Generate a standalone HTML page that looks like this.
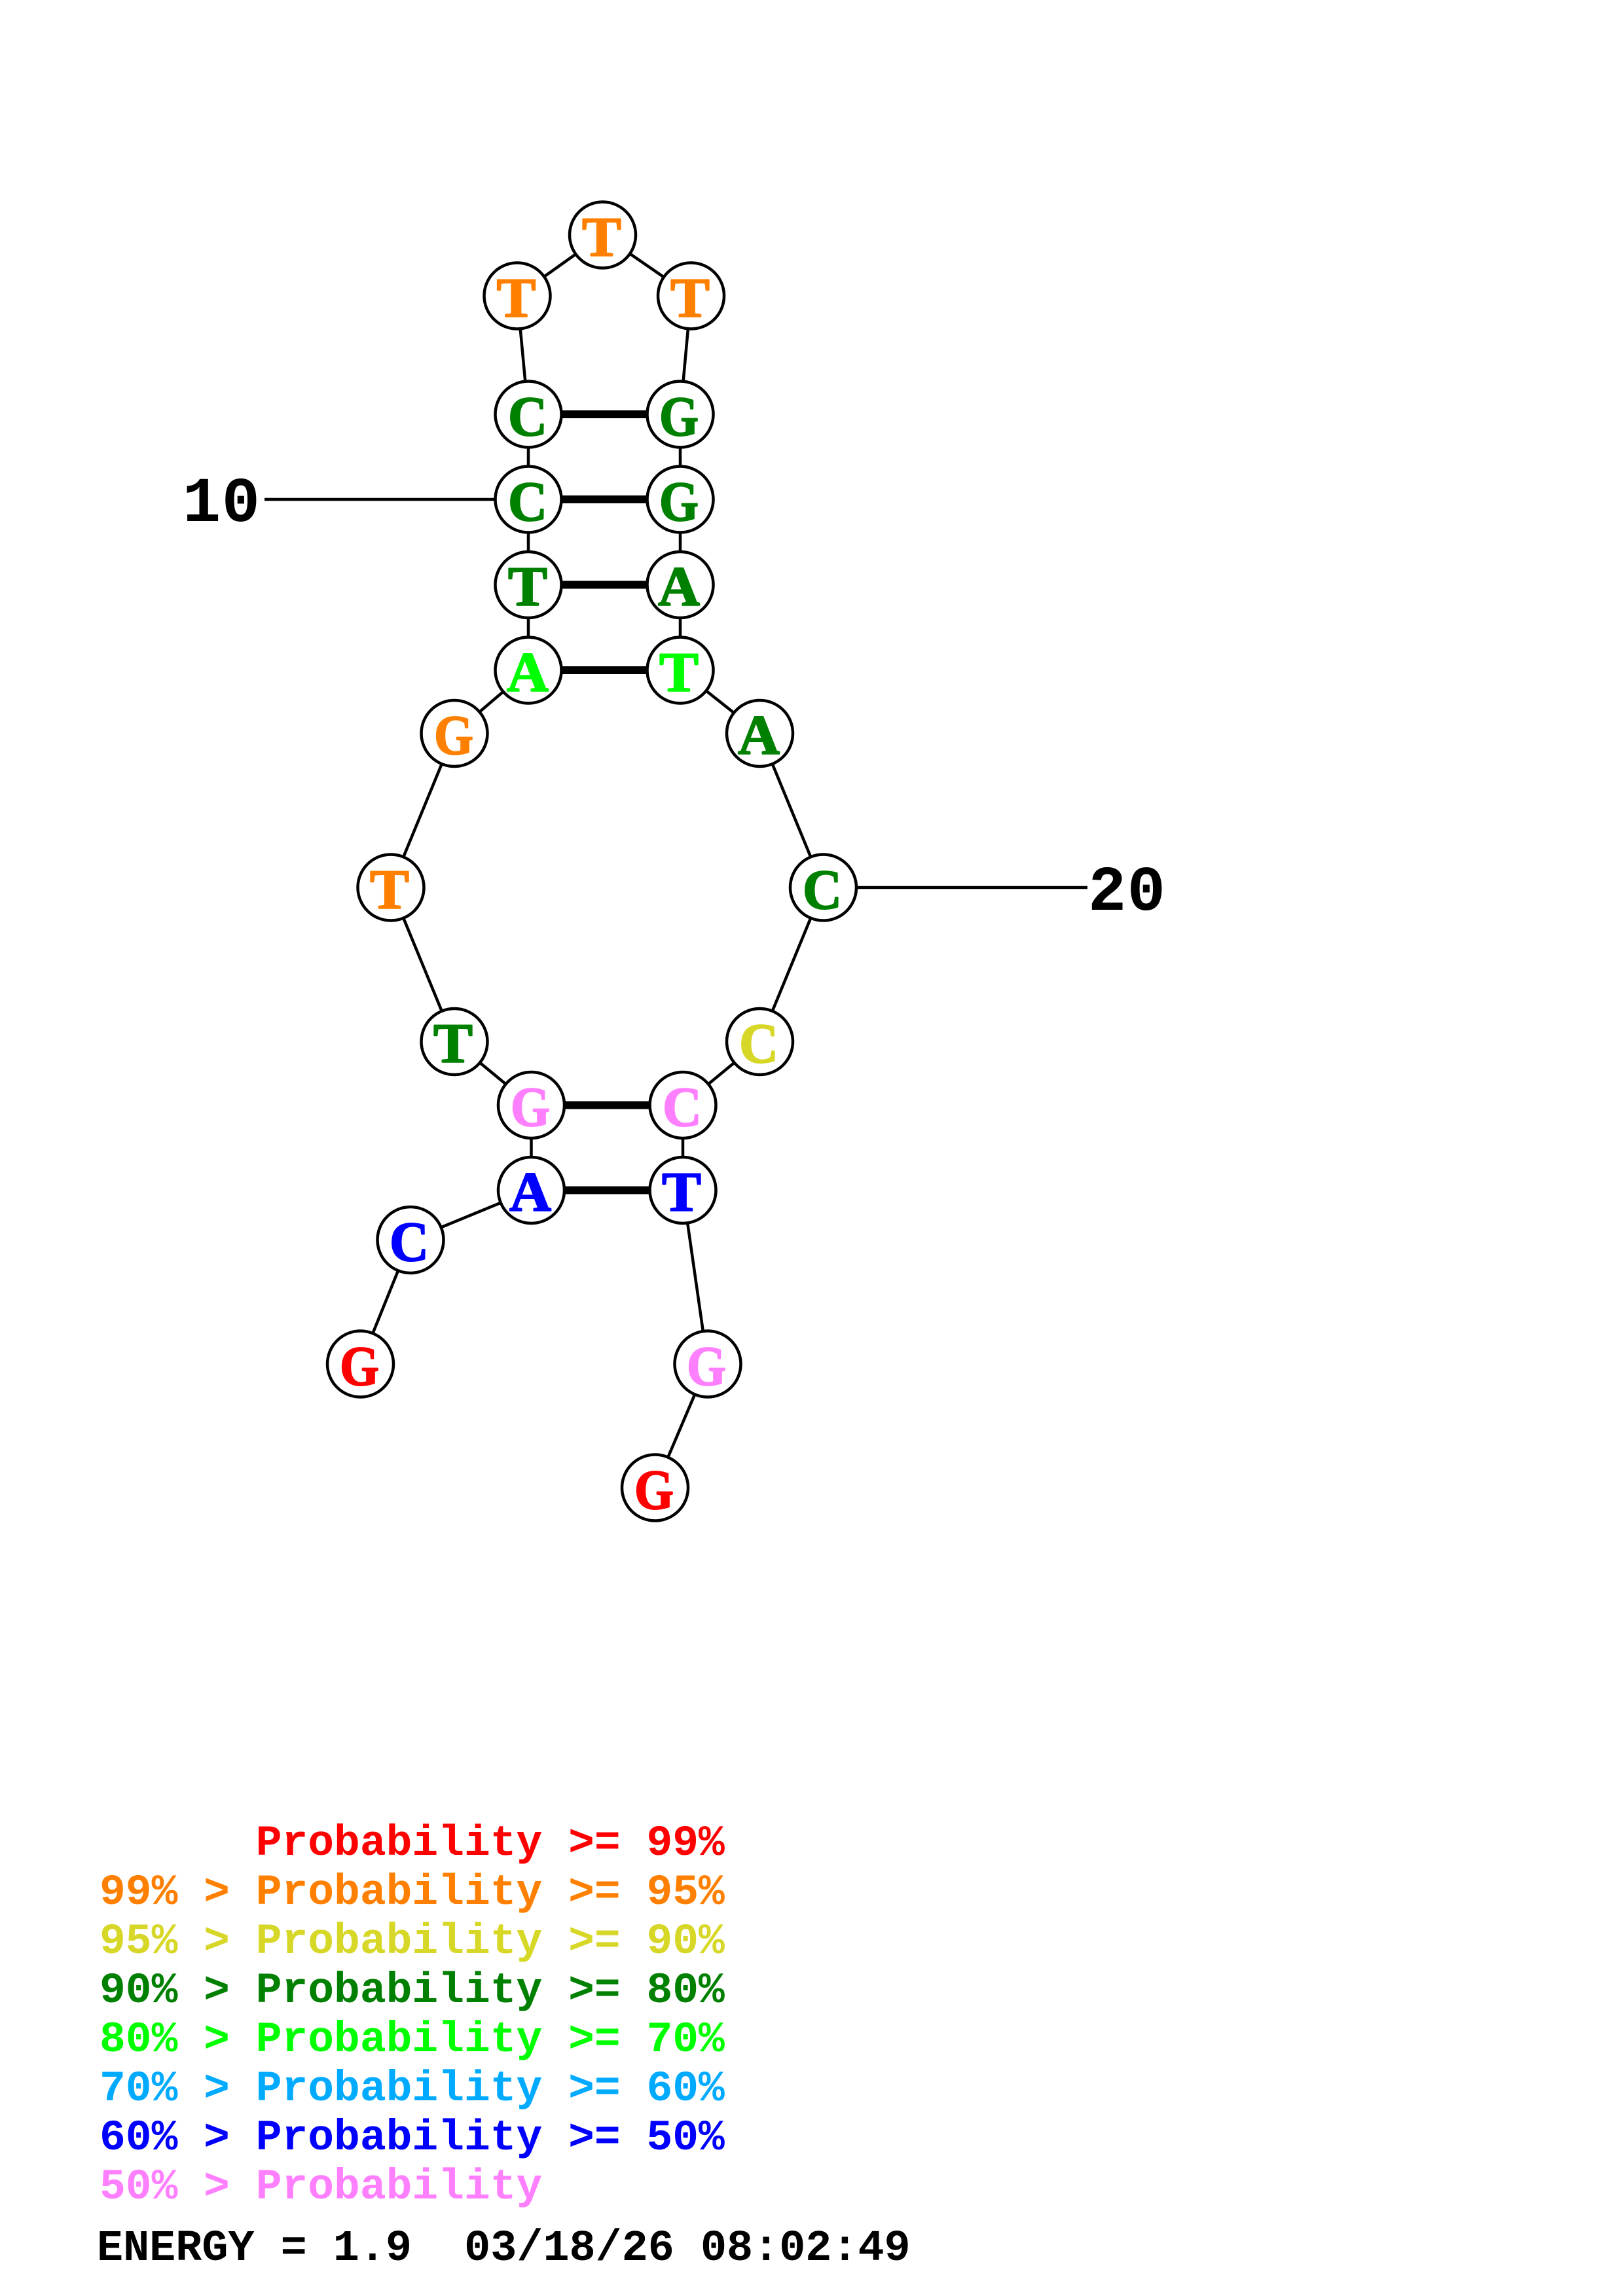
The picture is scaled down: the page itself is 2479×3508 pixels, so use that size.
<!DOCTYPE html>
<html><head><meta charset="utf-8"><style>
html,body{margin:0;padding:0;background:#fff}
svg{display:block}
text{white-space:pre}
.l{font-family:"Liberation Mono",monospace;font-weight:bold;font-size:66.3px}
.e{font-family:"Liberation Mono",monospace;font-weight:bold;font-size:66.8px}
.n{font-family:"Liberation Mono",monospace;font-weight:bold;font-size:97px;fill:#000}
.b{font-family:"Liberation Serif",serif;font-weight:bold;font-size:86px;text-anchor:middle;stroke-width:2;stroke-linejoin:round}
.bb{stroke:#000;stroke-width:4.5;fill:none}
.p{stroke:#000;stroke-width:12}
circle{fill:#fff;stroke:#000;stroke-width:4.5}
</style></head><body>
<svg xmlns="http://www.w3.org/2000/svg" width="2479" height="3508" viewBox="0 0 2479 3508">
<rect width="2479" height="3508" fill="#fff"/>
<polyline class="bb" points="550.5,2084 627,1894.5 811.5,1818.5 811.5,1688.5 694,1591.5 597,1356 694,1120.5 807,1024 807,893.5 807,763 807,633 790,452 920.5,359 1055.5,452 1039,633 1039,763 1039,893.5 1039,1024 1160.5,1120.5 1257.5,1356 1160.5,1591.5 1043,1688.5 1043,1818.5 1081,2084 1000.5,2273"/>
<line class="bb" x1="404" y1="763" x2="807" y2="763"/>
<line class="bb" x1="1257.5" y1="1356" x2="1661" y2="1356"/>
<line class="p" x1="807" y1="633" x2="1039" y2="633"/>
<line class="p" x1="807" y1="763" x2="1039" y2="763"/>
<line class="p" x1="807" y1="893.5" x2="1039" y2="893.5"/>
<line class="p" x1="807" y1="1024" x2="1039" y2="1024"/>
<line class="p" x1="811.5" y1="1688.5" x2="1043" y2="1688.5"/>
<line class="p" x1="811.5" y1="1818.5" x2="1043" y2="1818.5"/>

<circle cx="920.5" cy="359" r="50.5"/><text class="b" x="919" y="391" fill="#ff8000" stroke="#ff8000" textLength="60" lengthAdjust="spacingAndGlyphs">T</text>
<circle cx="790" cy="452" r="50.5"/><text class="b" x="788.5" y="484" fill="#ff8000" stroke="#ff8000" textLength="60" lengthAdjust="spacingAndGlyphs">T</text>
<circle cx="1055.5" cy="452" r="50.5"/><text class="b" x="1054" y="484" fill="#ff8000" stroke="#ff8000" textLength="60" lengthAdjust="spacingAndGlyphs">T</text>
<circle cx="807" cy="633" r="50.5"/><text class="b" x="806" y="665" fill="#008000" stroke="#008000" textLength="60" lengthAdjust="spacingAndGlyphs">C</text>
<circle cx="1039" cy="633" r="50.5"/><text class="b" x="1037" y="665" fill="#008000" stroke="#008000" textLength="60" lengthAdjust="spacingAndGlyphs">G</text>
<circle cx="807" cy="763" r="50.5"/><text class="b" x="806" y="795" fill="#008000" stroke="#008000" textLength="60" lengthAdjust="spacingAndGlyphs">C</text>
<circle cx="1039" cy="763" r="50.5"/><text class="b" x="1037" y="795" fill="#008000" stroke="#008000" textLength="60" lengthAdjust="spacingAndGlyphs">G</text>
<circle cx="807" cy="893.5" r="50.5"/><text class="b" x="806" y="925" fill="#008000" stroke="#008000" textLength="60" lengthAdjust="spacingAndGlyphs">T</text>
<circle cx="1039" cy="893.5" r="50.5"/><text class="b" x="1037" y="925" fill="#008000" stroke="#008000" textLength="64" lengthAdjust="spacingAndGlyphs">A</text>
<circle cx="807" cy="1024" r="50.5"/><text class="b" x="806" y="1056" fill="#00ff00" stroke="#00ff00" textLength="64" lengthAdjust="spacingAndGlyphs">A</text>
<circle cx="1039" cy="1024" r="50.5"/><text class="b" x="1037" y="1056" fill="#00ff00" stroke="#00ff00" textLength="60" lengthAdjust="spacingAndGlyphs">T</text>
<circle cx="694" cy="1120.5" r="50.5"/><text class="b" x="693" y="1152" fill="#ff8000" stroke="#ff8000" textLength="60" lengthAdjust="spacingAndGlyphs">G</text>
<circle cx="1160.5" cy="1120.5" r="50.5"/><text class="b" x="1159" y="1152" fill="#008000" stroke="#008000" textLength="64" lengthAdjust="spacingAndGlyphs">A</text>
<circle cx="597" cy="1356" r="50.5"/><text class="b" x="595" y="1388" fill="#ff8000" stroke="#ff8000" textLength="60" lengthAdjust="spacingAndGlyphs">T</text>
<circle cx="1257.5" cy="1356" r="50.5"/><text class="b" x="1256" y="1388" fill="#008000" stroke="#008000" textLength="60" lengthAdjust="spacingAndGlyphs">C</text>
<circle cx="694" cy="1591.5" r="50.5"/><text class="b" x="692" y="1623" fill="#008000" stroke="#008000" textLength="60" lengthAdjust="spacingAndGlyphs">T</text>
<circle cx="1160.5" cy="1591.5" r="50.5"/><text class="b" x="1159" y="1623" fill="#d7d728" stroke="#d7d728" textLength="60" lengthAdjust="spacingAndGlyphs">C</text>
<circle cx="811.5" cy="1688.5" r="50.5"/><text class="b" x="810" y="1720" fill="#ff80ff" stroke="#ff80ff" textLength="60" lengthAdjust="spacingAndGlyphs">G</text>
<circle cx="1043" cy="1688.5" r="50.5"/><text class="b" x="1042" y="1720" fill="#ff80ff" stroke="#ff80ff" textLength="60" lengthAdjust="spacingAndGlyphs">C</text>
<circle cx="811.5" cy="1818.5" r="50.5"/><text class="b" x="810" y="1850" fill="#0000ff" stroke="#0000ff" textLength="64" lengthAdjust="spacingAndGlyphs">A</text>
<circle cx="1043" cy="1818.5" r="50.5"/><text class="b" x="1041" y="1850" fill="#0000ff" stroke="#0000ff" textLength="60" lengthAdjust="spacingAndGlyphs">T</text>
<circle cx="627" cy="1894.5" r="50.5"/><text class="b" x="625" y="1926" fill="#0000ff" stroke="#0000ff" textLength="60" lengthAdjust="spacingAndGlyphs">C</text>
<circle cx="550.5" cy="2084" r="50.5"/><text class="b" x="549" y="2116" fill="#ff0000" stroke="#ff0000" textLength="60" lengthAdjust="spacingAndGlyphs">G</text>
<circle cx="1081" cy="2084" r="50.5"/><text class="b" x="1079" y="2116" fill="#ff80ff" stroke="#ff80ff" textLength="60" lengthAdjust="spacingAndGlyphs">G</text>
<circle cx="1000.5" cy="2273" r="50.5"/><text class="b" x="999" y="2305" fill="#ff0000" stroke="#ff0000" textLength="60" lengthAdjust="spacingAndGlyphs">G</text>

<text class="n" x="279" y="796" textLength="118" lengthAdjust="spacing">10</text>
<text class="n" x="1662" y="1390" textLength="118" lengthAdjust="spacing">20</text>

<text class="l" x="152" y="2834" fill="#ff0000">      Probability &gt;= 99%</text>
<text class="l" x="152" y="2909" fill="#ff8000">99% &gt; Probability &gt;= 95%</text>
<text class="l" x="152" y="2984" fill="#d7d728">95% &gt; Probability &gt;= 90%</text>
<text class="l" x="152" y="3059" fill="#008000">90% &gt; Probability &gt;= 80%</text>
<text class="l" x="152" y="3134" fill="#00ff00">80% &gt; Probability &gt;= 70%</text>
<text class="l" x="152" y="3209" fill="#00aaff">70% &gt; Probability &gt;= 60%</text>
<text class="l" x="152" y="3284" fill="#0000ff">60% &gt; Probability &gt;= 50%</text>
<text class="l" x="152" y="3359" fill="#ff80ff">50% &gt; Probability</text>
<text class="e" x="148" y="3453" fill="#000">ENERGY = 1.9  03/18/26 08:02:49</text>
</svg>
</body></html>
